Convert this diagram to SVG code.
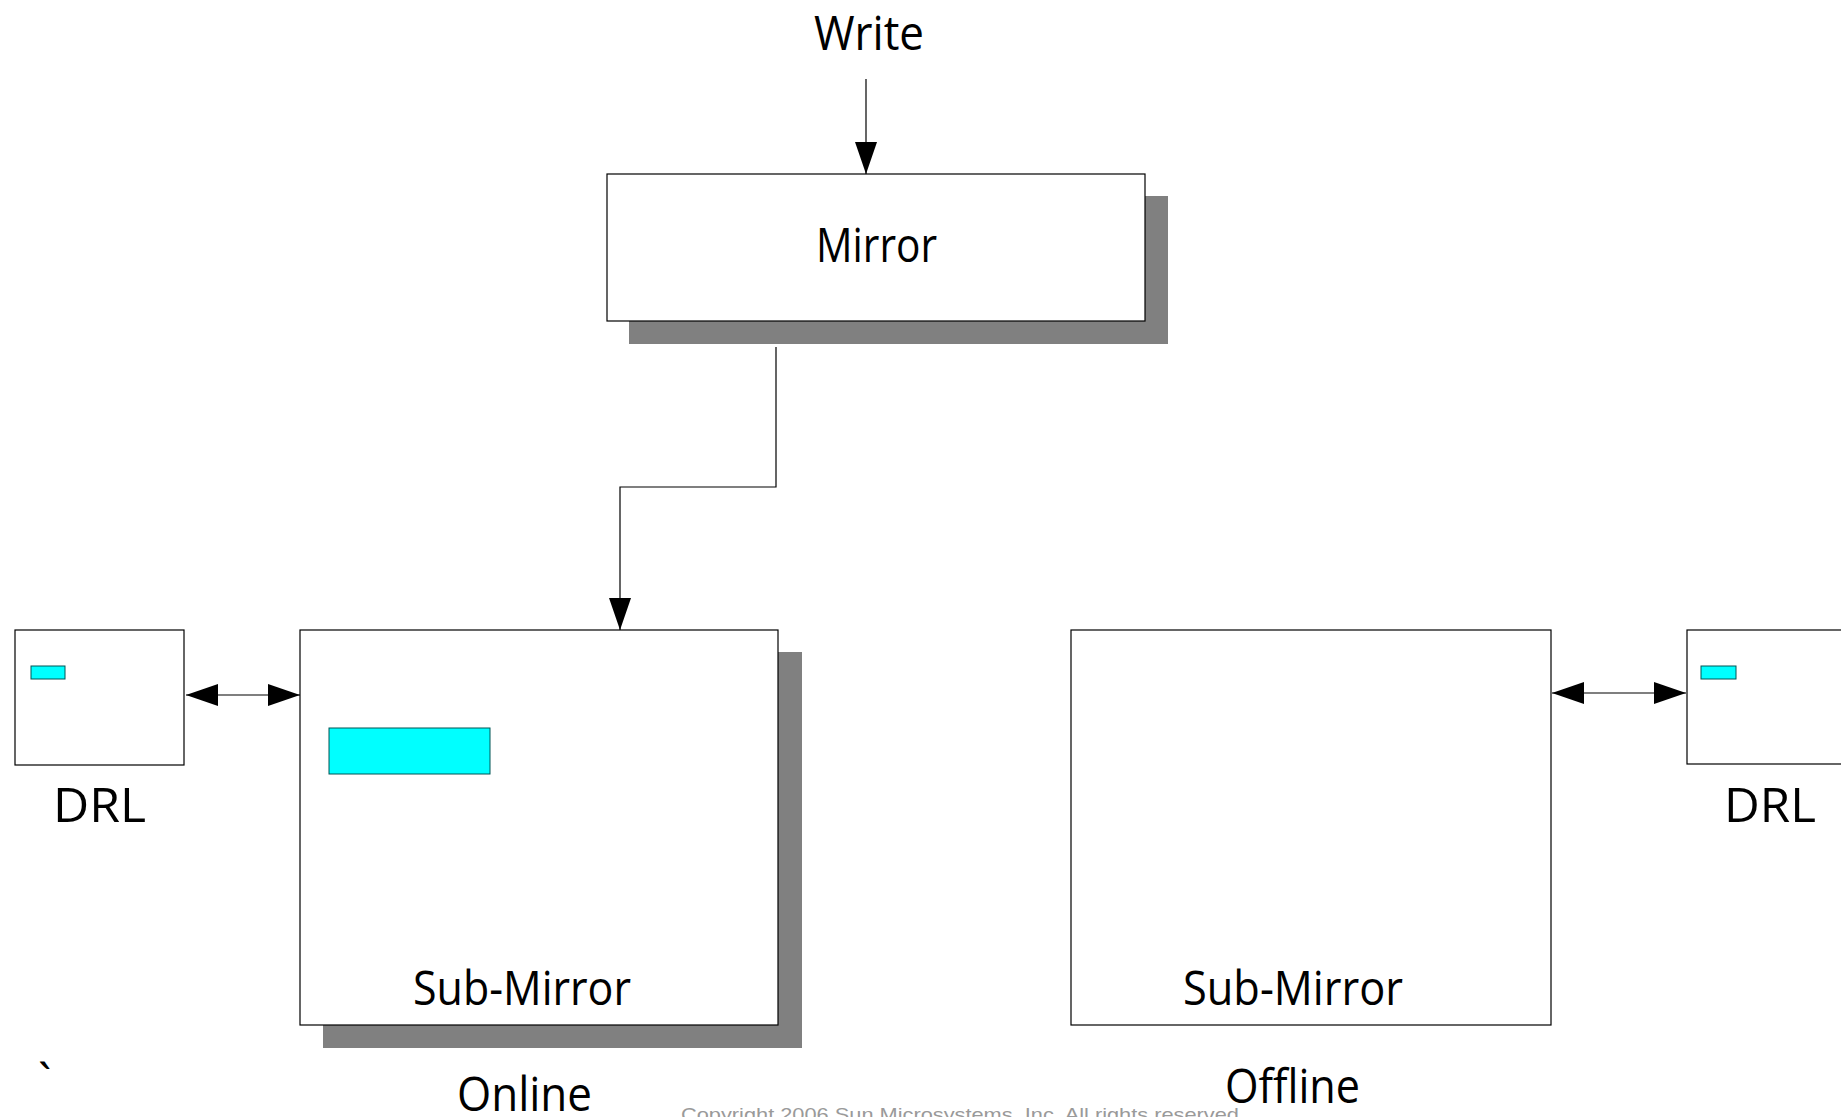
<svg xmlns="http://www.w3.org/2000/svg" width="1841" height="1117" viewBox="0 0 1841 1117">
<style>
.box{fill:#fff;stroke:#000;stroke-width:1.2}
.shadow{fill:#808080;stroke:none}
.cyan{fill:#00ffff;stroke:#005555;stroke-width:1}
.lbl{font-family:"Open Sans","Liberation Sans",sans-serif;font-size:48px;fill:#000}
.conn{fill:none;stroke:#000;stroke-width:1.2}
.copy{font-family:"Liberation Sans",Arial,sans-serif;font-size:19px;fill:#9a9a9a}
</style>
<defs>
<marker id="ah" markerUnits="userSpaceOnUse" markerWidth="32" markerHeight="22" refX="32" refY="11" orient="auto-start-reverse">
<path d="M0,0 L32,11 L0,22 z" fill="#000"/>
</marker>
</defs>
<rect width="1841" height="1117" fill="#fff"/>
<g id="write-label">
<text class="lbl" x="814" y="50" textLength="110" lengthAdjust="spacingAndGlyphs">Write</text>
</g>
<g id="mirror">
<rect class="shadow" x="629" y="196" width="539" height="148"/>
<rect class="box" x="607" y="174" width="538" height="147"/>
<text class="lbl" x="816" y="262" textLength="121" lengthAdjust="spacingAndGlyphs">Mirror</text>
</g>
<g id="drl-left">
<rect class="box" x="15" y="630" width="169" height="135"/>
<rect class="cyan" x="31" y="666" width="34" height="13"/>
<text class="lbl" x="53" y="822" textLength="93" lengthAdjust="spacingAndGlyphs">DRL</text>
</g>
<g id="submirror-online">
<rect class="shadow" x="323" y="652" width="479" height="396"/>
<rect class="box" x="300" y="630" width="478" height="395"/>
<rect class="cyan" x="329" y="728" width="161" height="46"/>
<text class="lbl" x="413" y="1005" textLength="218" lengthAdjust="spacingAndGlyphs">Sub-Mirror</text>
<text class="lbl" x="457" y="1111" textLength="135" lengthAdjust="spacingAndGlyphs">Online</text>
</g>
<g id="submirror-offline">
<rect class="box" x="1071" y="630" width="480" height="395"/>
<text class="lbl" x="1183" y="1005" textLength="220" lengthAdjust="spacingAndGlyphs">Sub-Mirror</text>
<text class="lbl" x="1225" y="1103" textLength="135" lengthAdjust="spacingAndGlyphs">Offline</text>
</g>
<g id="drl-right">
<rect class="box" x="1687" y="630" width="170" height="134"/>
<rect class="cyan" x="1701" y="666" width="35" height="13"/>
<text class="lbl" x="1724" y="822" textLength="92" lengthAdjust="spacingAndGlyphs">DRL</text>
</g>
<g id="connectors">
<path class="conn" d="M866,79 V174" marker-end="url(#ah)"/>
<path class="conn" d="M776,347 V487 H620 V630" marker-end="url(#ah)"/>
<path class="conn" d="M186,695 H300" marker-start="url(#ah)" marker-end="url(#ah)"/>
<path class="conn" d="M1552,693 H1686" marker-start="url(#ah)" marker-end="url(#ah)"/>
</g>
<g id="misc">
<text class="lbl" x="38" y="1098">`</text>
<text class="copy" x="681" y="1121" textLength="564" lengthAdjust="spacingAndGlyphs">Copyright 2006 Sun Microsystems, Inc.  All rights reserved.</text>
</g>
</svg>
